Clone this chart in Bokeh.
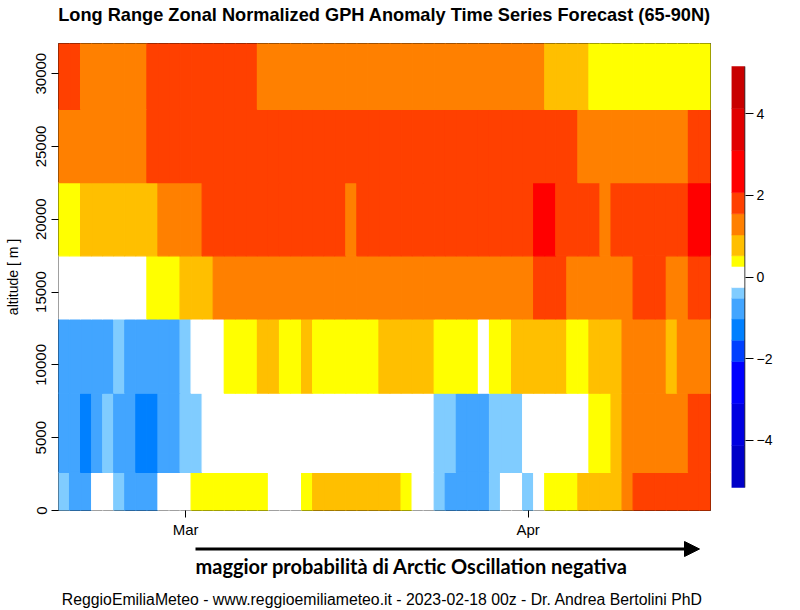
import numpy as np
import pandas as pd
from bokeh.plotting import figure
from bokeh.models import Range1d, FixedTicker, Arrow, NormalHead, LinearColorMapper, ColumnDataSource
from bokeh.layouts import column, row
from bokeh.embed import file_html
from bokeh.resources import INLINE
from bokeh.core.properties import value
from bokeh.transform import transform

# ---------------- data ----------------
start_date = "2023-02-18"
n_days = 59
level_edges = [0, 2620, 8060, 13150, 17490, 22520, 27550, 32070]

row_0000_02620 = [-0.4, -0.8, -0.8, 0, 0, -0.4, -0.8, -0.8, -0.8, 0,
                  0, 0, 0.4, 0.4, 0.4, 0.4, 0.4, 0.4, 0.4, 0,
                  0, 0, 0.4, 0.8, 0.8, 0.8, 0.8, 0.8, 0.8, 0.8,
                  0.8, 0.4, 0, 0, -0.4, -0.8, -0.8, -0.8, -0.8, -0.4,
                  0, 0, -0.4, 0, 0.4, 0.4, 0.4, 0.8, 0.8, 0.8,
                  0.8, 1.3, 1.8, 1.8, 1.8, 1.8, 1.8, 1.8, 1.8]
row_02620_08060 = [-0.8, -0.8, -1.3, -0.8, -0.4, -0.8, -0.8, -1.3, -1.3, -0.8,
                   -0.8, -0.4, -0.4, 0, 0, 0, 0, 0, 0, 0,
                   0, 0, 0, 0, 0, 0, 0, 0, 0, 0,
                   0, 0, 0, 0, -0.4, -0.4, -0.8, -0.8, -0.8, -0.4,
                   -0.4, -0.4, 0, 0, 0, 0, 0, 0, 0.4, 0.4,
                   0.8, 1.3, 1.3, 1.3, 1.3, 1.3, 1.3, 1.8, 1.8]
row_08060_13150 = [-0.8, -0.8, -0.8, -0.8, -0.8, -0.4, -0.8, -0.8, -0.8, -0.8,
                   -0.8, -0.4, 0, 0, 0, 0.4, 0.4, 0.4, 0.8, 0.8,
                   0.4, 0.4, 0.8, 0.4, 0.4, 0.4, 0.4, 0.4, 0.4, 0.8,
                   0.8, 0.8, 0.8, 0.8, 0.4, 0.4, 0.4, 0.4, 0, 0.4,
                   0.4, 0.8, 0.8, 0.8, 0.8, 0.8, 0.4, 0.4, 0.8, 0.8,
                   0.8, 1.3, 1.3, 1.3, 1.3, 0.8, 1.3, 1.3, 1.3]
row_13150_17490 = [0, 0, 0, 0, 0, 0, 0, 0, 0.4, 0.4,
                   0.4, 0.8, 0.8, 0.8, 1.3, 1.3, 1.3, 1.3, 1.3, 1.3,
                   1.3, 1.3, 1.3, 1.3, 1.3, 1.3, 1.3, 1.3, 1.3, 1.3,
                   1.3, 1.3, 1.3, 1.3, 1.3, 1.3, 1.3, 1.3, 1.3, 1.3,
                   1.3, 1.3, 1.3, 1.8, 1.8, 1.8, 1.3, 1.3, 1.3, 1.3,
                   1.3, 1.3, 1.8, 1.8, 1.8, 1.3, 1.3, 1.8, 1.8]
row_17490_22520 = [0.4, 0.4, 0.8, 0.8, 0.8, 0.8, 0.8, 0.8, 0.8, 1.3,
                   1.3, 1.3, 1.3, 1.8, 1.8, 1.8, 1.8, 1.8, 1.8, 1.8,
                   1.8, 1.8, 1.8, 1.8, 1.8, 1.8, 1.3, 1.8, 1.8, 1.8,
                   1.8, 1.8, 1.8, 1.8, 1.8, 1.8, 1.8, 1.8, 1.8, 1.8,
                   1.8, 1.8, 1.8, 2.5, 2.5, 1.8, 1.8, 1.8, 1.8, 1.3,
                   1.8, 1.8, 1.8, 1.8, 1.8, 1.8, 1.8, 2.5, 2.5]
row_22520_27550 = [1.3, 1.3, 1.3, 1.3, 1.3, 1.3, 1.3, 1.3, 1.8, 1.8,
                   1.8, 1.8, 1.8, 1.8, 1.8, 1.8, 1.8, 1.8, 1.8, 1.8,
                   1.8, 1.8, 1.8, 1.8, 1.8, 1.8, 1.8, 1.8, 1.8, 1.8,
                   1.8, 1.8, 1.8, 1.8, 1.8, 1.8, 1.8, 1.8, 1.8, 1.8,
                   1.8, 1.8, 1.8, 1.8, 1.8, 1.8, 1.8, 1.3, 1.3, 1.3,
                   1.3, 1.3, 1.3, 1.3, 1.3, 1.3, 1.3, 1.8, 1.8]
row_27550_32070 = [1.8, 1.8, 1.3, 1.3, 1.3, 1.3, 1.3, 1.3, 1.8, 1.8,
                   1.8, 1.8, 1.8, 1.8, 1.8, 1.8, 1.8, 1.8, 1.3, 1.3,
                   1.3, 1.3, 1.3, 1.3, 1.3, 1.3, 1.3, 1.3, 1.3, 1.3,
                   1.3, 1.3, 1.3, 1.3, 1.3, 1.3, 1.3, 1.3, 1.3, 1.3,
                   1.3, 1.3, 1.3, 1.3, 0.8, 0.8, 0.8, 0.8, 0.4, 0.4,
                   0.4, 0.4, 0.4, 0.4, 0.4, 0.4, 0.4, 0.4, 0.4]

class_breaks = [-5.16, -4.13, -3.10, -2.07, -1.55, -1.03, -0.52, -0.26,
                0.26, 0.52, 1.03, 1.55, 2.07, 3.10, 4.13, 5.16]
class_colors = ["#0000C8", "#0000E1", "#0000FF", "#0040FF", "#0080FF", "#42A5FF", "#80CCFF",
                "#FFFFFF",
                "#FFFF00", "#FFBF00", "#FF8000", "#FF4000", "#FF0000", "#E10000", "#C80000"]
y_ticks = [0, 5000, 10000, 15000, 20000, 25000, 30000]
cb_ticks = [-4, -2, 0, 2, 4]
cb_tick_labels = ["\u22124", "\u22122", "0", "2", "4"]

title_text = "Long Range Zonal Normalized GPH Anomaly Time Series Forecast (65-90N)"
y_label = "altitude [ m ]"
note_text = "maggior probabilit\u00e0 di Arctic Oscillation negativa"
footer_text = "ReggioEmiliaMeteo - www.reggioemiliameteo.it -  2023-02-18 00z - Dr. Andrea Bertolini PhD"

# ---------------- build ----------------
rows = [row_0000_02620, row_02620_08060, row_08060_13150, row_13150_17490,
        row_17490_22520, row_22520_27550, row_27550_32070]
for r in rows:
    assert len(r) == n_days

dates = pd.date_range(start_date, periods=n_days, freq="D")
day_idx = np.arange(n_days)
month_ticks = [int(i) for i, d in zip(day_idx, dates) if d.day == 1]
month_labels = [d.strftime("%b") for d in dates if d.day == 1]

left, right, bottom, top, vals = [], [], [], [], []
for k, r in enumerate(rows):
    for d, v in zip(day_idx, r):
        left.append(d - 0.5); right.append(d + 0.5)
        bottom.append(level_edges[k]); top.append(level_edges[k + 1])
        vals.append(v)
src = ColumnDataSource(dict(left=left, right=right, bottom=bottom, top=top, val=vals))

# fine palette reproducing the uneven class breaks
n_seg = 40
lo, hi = class_breaks[0], class_breaks[-1]
step = (hi - lo) / n_seg
centers = lo + step * (np.arange(n_seg) + 0.5)
pal = [class_colors[int(np.searchsorted(class_breaks, c) - 1)] for c in centers]
mapper = LinearColorMapper(palette=pal, low=lo, high=hi)

FONT = "Liberation Sans"
TOP_H = 30                    # title strip
TOP, BOTTOM = 13, 30          # frame borders shared by the two middle panels
ROW_H = 510
FRAME_H = ROW_H - TOP - BOTTOM

def strip(height):
    f = figure(width=800, height=height, x_range=Range1d(0, 800), y_range=Range1d(height, 0),
               x_axis_location=None, y_axis_location=None,
               output_backend="svg", toolbar_location=None, min_border=0,
               min_border_left=0, min_border_right=0, min_border_top=0, min_border_bottom=0)
    f.grid.visible = False
    f.outline_line_color = None
    f.border_fill_color = "white"
    return f

# title strip
tp = strip(TOP_H)
tp.text(x=[384], y=[14.4], text=[title_text], text_font=value(FONT), text_font_style="bold",
        text_font_size="18.2px", text_align="center", text_baseline="alphabetic", text_color="black")

p = figure(width=720, height=ROW_H,
           x_range=Range1d(-0.5, n_days - 0.5),
           y_range=Range1d(level_edges[0], level_edges[-1]),
           output_backend="svg", toolbar_location=None,
           min_border_left=58, min_border_right=10, min_border_top=TOP, min_border_bottom=BOTTOM)
p.quad(left="left", right="right", bottom="bottom", top="top", source=src,
       fill_color=transform("val", mapper), line_color=transform("val", mapper), line_width=1.2)

p.grid.visible = False
p.outline_line_color = "black"
p.outline_line_width = 1
p.background_fill_color = "white"
p.border_fill_color = "white"

xa = p.xaxis[0]
xa.ticker = FixedTicker(ticks=month_ticks)
xa.major_label_overrides = dict(zip(month_ticks, month_labels))
xa.axis_line_color = None
xa.major_tick_out = 7
xa.major_tick_in = 0
xa.minor_tick_line_color = None
xa.major_tick_line_color = "black"
xa.major_label_text_font = FONT
xa.major_label_text_font_size = "15px"
xa.major_label_text_color = "black"
xa.major_label_standoff = 3

ya = p.yaxis[0]
ya.ticker = FixedTicker(ticks=y_ticks)
ya.major_label_orientation = "vertical"
ya.axis_line_color = None
ya.major_tick_out = 7
ya.major_tick_in = 0
ya.minor_tick_line_color = None
ya.major_tick_line_color = "black"
ya.major_label_text_font = FONT
ya.major_label_text_font_size = "15px"
ya.major_label_text_color = "black"
ya.major_label_standoff = 5
ya.axis_label = y_label
ya.axis_label_text_font = FONT
ya.axis_label_text_font_size = "14px"
ya.axis_label_text_font_style = "normal"
ya.axis_label_text_color = "black"
ya.axis_label_standoff = 13

# colour bar as its own small figure (frame aligned with the main one)
bar_top_gap = 23   # px between frame edge and colour bar ends
units_per_px = (class_breaks[-1] - class_breaks[0]) / (FRAME_H - 2 * bar_top_gap)
pad = bar_top_gap * units_per_px
cb = figure(width=80, height=ROW_H, x_range=Range1d(0, 14),
            y_range=Range1d(class_breaks[0] - pad, class_breaks[-1] + pad),
            x_axis_location=None, y_axis_location="right",
            output_backend="svg", toolbar_location=None,
            min_border_left=11, min_border_right=55, min_border_top=TOP, min_border_bottom=BOTTOM)
cb.quad(left=0, right=13, bottom=class_breaks[:-1], top=class_breaks[1:],
        fill_color=class_colors, line_color=class_colors, line_width=0.5)
cb.segment(x0=[13.5], y0=[class_breaks[0]], x1=[13.5], y1=[class_breaks[-1]],
           line_color="black", line_width=1)
cb.grid.visible = False
cb.outline_line_color = None
cb.border_fill_color = "white"
ca = cb.yaxis[0]
ca.ticker = FixedTicker(ticks=cb_ticks)
ca.major_label_overrides = dict(zip(cb_ticks, cb_tick_labels))
ca.axis_line_color = None
ca.major_tick_out = 8
ca.major_tick_in = 0
ca.minor_tick_line_color = None
ca.major_tick_line_color = "black"
ca.major_label_text_font = FONT
ca.major_label_text_font_size = "14px"
ca.major_label_text_color = "black"
ca.major_label_standoff = 3

# bottom strip: arrow, note and credits (y measured downward from strip top)
BT_H = 70
bt = strip(BT_H)
bt.add_layout(Arrow(end=NormalHead(size=15, fill_color="black", line_color="black"),
                    x_start=195, y_start=8.5, x_end=699, y_end=8.5,
                    line_width=3, line_color="black"))
bt.text(x=[195], y=[25.7], text=[note_text], text_font=value("Lato"), text_font_style="bold",
        text_font_size="20px", text_align="left", text_baseline="alphabetic", text_color="black")
bt.text(x=[384], y=[59], text=[footer_text], text_font=value(FONT),
        text_font_size="15.8px", text_align="center", text_baseline="alphabetic", text_color="black")

layout = column(tp, row(p, cb), bt)
open("out.html", "w").write(file_html(layout, INLINE))
